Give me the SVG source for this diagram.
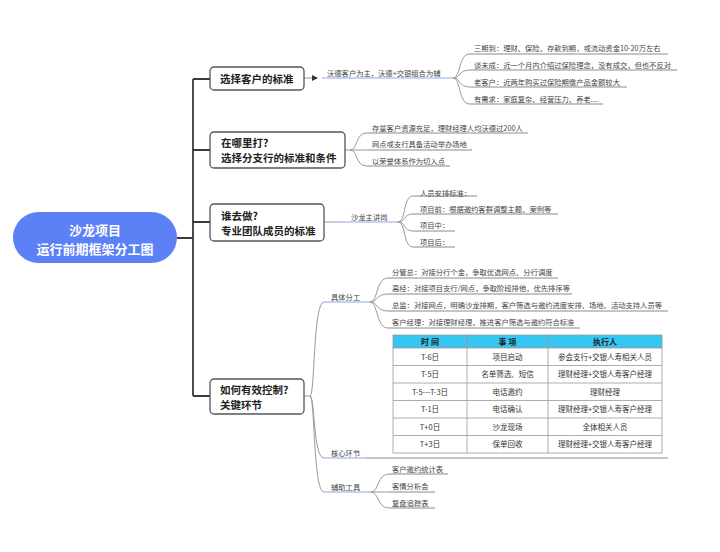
<svg xmlns="http://www.w3.org/2000/svg" width="720" height="552" viewBox="0 0 720 552">
<style>
text{font-family:"Noto Sans CJK SC","Noto Sans",sans-serif}
.root{fill:#5c80f6}
.rt{fill:#fff;font-size:13px;font-weight:bold;text-anchor:middle}
.box{fill:#fff;stroke:#555;stroke-width:1.3}
.nt{fill:#222;font-size:10.5px;font-weight:bold}
.ct{fill:#444;font-size:7.3px}
.trunk{fill:none;stroke:#3a3a3a;stroke-width:1.8}
.br{fill:none;stroke:#999;stroke-width:1}
.ul{fill:none;stroke:#8a8a8a;stroke-width:1}
.bl{fill:none;stroke:#8ea6f4;stroke-width:1.2}
.cell{fill:#fff;stroke:#999;stroke-width:0.8}
.hd{fill:#36c6f2;stroke:#999;stroke-width:0.8}
.tt{fill:#333;font-size:7.5px;text-anchor:middle}
.th{fill:#222;font-size:8px;font-weight:bold;text-anchor:middle}
</style>
<defs>
<marker id="arr" markerWidth="6" markerHeight="6" refX="5" refY="3" orient="auto" markerUnits="userSpaceOnUse">
<path d="M0,0 L6,3 L0,6 Z" fill="#333"/>
</marker>
</defs>
<rect width="720" height="552" fill="#fff"/>

<g id="connectors">
<path class="trunk" d="M177 238 H193 M193 79 V396 M193 79 H210 M193 150 H210 M193 222 H210 M193 396 H210"/>
<path class="br" d="M304 78 H317" marker-end="url(#arr)" stroke="#555"/>
<path class="bl" d="M322 78 H453"/>
<path class="br" d="M453 78 C461 78,458 54,470 54 M453 78 C461 78,458 70,470 70 M453 78 C461 78,458 87,470 87 M453 78 C461 78,458 104,470 104"/>
<path class="ul" d="M470 54 H668 M470 70 H677 M470 87 H627 M470 104 H603"/>
<path class="br" d="M345 150 H350 C358 150,355 133,367 133 M350 150 H367 M350 150 C358 150,355 166,367 166"/>
<path class="ul" d="M367 133 H528 M367 150 H472 M367 166 H450"/>
<path class="br" d="M324 222 H342"/>
<path class="bl" d="M342 222 H395"/>
<path class="br" d="M395 222 H398 C406 222,403 196,413 196 M398 222 C406 222,403 214,413 214 M398 222 C406 222,403 231,413 231 M398 222 C406 222,403 247,413 247"/>
<path class="ul" d="M413 196 H477 M413 214 H558 M413 231 H455 M413 247 H455"/>
<path class="br" d="M304 396 H310 C315 396,313 302,324 302 M310 396 C315 396,313 458,324 458 M310 396 C315 396,313 492,324 492"/>
<path class="bl" d="M324 302 H370 M324 458 H366 M324 492 H368"/>
<path class="ul" d="M366 458 H668"/>
<path class="br" d="M370 302 C378 302,376 278,388 278 M370 302 C378 302,376 294,388 294 M370 302 C378 302,376 311,388 311 M370 302 C378 302,376 328,388 328"/>
<path class="ul" d="M388 278 H558 M388 294 H572 M388 311 H668 M388 328 H580"/>
<path class="br" d="M368 492 H371 C379 492,377 474,389 474 M371 492 H389 M371 492 C379 492,377 508,389 508"/>
<path class="ul" d="M389 474 H448 M389 492 H435 M389 508 H435"/>
</g>

<g id="root">
<rect class="root" x="13" y="212" width="164" height="51" rx="25.5"/>
<text class="rt" x="95" y="235">沙龙项目</text>
<text class="rt" x="95" y="254">运行前期框架分工图</text>
</g>

<g id="node1">
<rect class="box" x="210" y="67" width="94" height="23" rx="4"/>
<text class="nt" x="220" y="83">选择客户的标准</text>
</g>
<g id="node1-label"><text class="ct" x="327" y="75.5">沃德客户为主，沃德+交银组合为辅</text></g>
<g id="node1-children">
<text class="ct" x="474" y="50.8">三期到：理财、保险、存款到期，或流动资金10-20万左右</text>
<text class="ct" x="474" y="67.8">谈未成：近一个月内介绍过保险理念，没有成交，但也不反对</text>
<text class="ct" x="474" y="84.8">老客户：近两年购买过保险期缴产品金额较大</text>
<text class="ct" x="474" y="101.8">有需求：家庭复杂、经营压力、养老....</text>
</g>

<g id="node2">
<rect class="box" x="210" y="132" width="135" height="36" rx="4"/>
<text class="nt" x="221" y="146.5">在哪里打?</text>
<text class="nt" x="221" y="161.5">选择分支行的标准和条件</text>
</g>
<g id="node2-children">
<text class="ct" x="372" y="130.8">存量客户资源充足，理财经理人均沃德过200人</text>
<text class="ct" x="372" y="146.8">网点或支行具备活动举办场地</text>
<text class="ct" x="372" y="163.8">以荣誉体系作为切入点</text>
</g>

<g id="node3">
<rect class="box" x="210" y="204" width="114" height="37" rx="4"/>
<text class="nt" x="221" y="219.5">谁去做?</text>
<text class="nt" x="221" y="235">专业团队成员的标准</text>
</g>
<g id="node3-label"><text class="ct" x="351" y="220">沙龙主讲岗</text></g>
<g id="node3-children">
<text class="ct" x="420" y="195.8">人员安排标准：</text>
<text class="ct" x="420" y="211.8">项目前：根据邀约客群调整主题、案例等</text>
<text class="ct" x="420" y="228">项目中：</text>
<text class="ct" x="420" y="244.8">项目后：</text>
</g>

<g id="node4">
<rect class="box" x="210" y="379" width="94" height="35" rx="4"/>
<text class="nt" x="220" y="394">如何有效控制?</text>
<text class="nt" x="220" y="409">关键环节</text>
</g>
<g id="node4-sub">
<text class="ct" x="331" y="300">具体分工</text>
<text class="ct" x="331" y="455.5">核心环节</text>
<text class="ct" x="331" y="489.5">辅助工具</text>
</g>
<g id="node4-fengong">
<text class="ct" x="392" y="274.8">分管总：对接分行个金，争取优选网点、分行调度</text>
<text class="ct" x="392" y="290.8">高经：对接项目支行/网点，争取阶段排他，优先排序等</text>
<text class="ct" x="392" y="307.8">总监：对接网点，明确沙龙排期，客户筛选与邀约进度安排、场地、活动支持人员等</text>
<text class="ct" x="392" y="324.8">客户经理：对接理财经理，推进客户筛选与邀约符合标准</text>
</g>
<g id="node4-tools">
<text class="ct" x="392" y="471.5">客户邀约统计表</text>
<text class="ct" x="392" y="488.8">客情分析会</text>
<text class="ct" x="392" y="505.5">复盘追踪表</text>
</g>

<g id="table">
<rect class="hd" x="393" y="335" width="74" height="13"/>
<rect class="hd" x="467" y="335" width="81" height="13"/>
<rect class="hd" x="548" y="335" width="114" height="13"/>
<text class="th" x="430" y="344.5">时 间</text>
<text class="th" x="507.5" y="344.5">事 项</text>
<text class="th" x="605" y="344.5">执行人</text>
<rect class="cell" x="393" y="348" width="269" height="105"/>
<path class="cell" d="M393 365.5 H662 M393 383 H662 M393 400.5 H662 M393 418 H662 M393 435.5 H662 M467 348 V453 M548 348 V453"/>
<text class="tt" x="430" y="359.5">T-6日</text>
<text class="tt" x="507.5" y="359.5">项目启动</text>
<text class="tt" x="605" y="359.5">参会支行+交银人寿相关人员</text>
<text class="tt" x="430" y="377">T-5日</text>
<text class="tt" x="507.5" y="377">名单筛选、短信</text>
<text class="tt" x="605" y="377">理财经理+交银人寿客户经理</text>
<text class="tt" x="430" y="394.5">T-5---T-3日</text>
<text class="tt" x="507.5" y="394.5">电话邀约</text>
<text class="tt" x="605" y="394.5">理财经理</text>
<text class="tt" x="430" y="412">T-1日</text>
<text class="tt" x="507.5" y="412">电话确认</text>
<text class="tt" x="605" y="412">理财经理+交银人寿客户经理</text>
<text class="tt" x="430" y="429.5">T+0日</text>
<text class="tt" x="507.5" y="429.5">沙龙现场</text>
<text class="tt" x="605" y="429.5">全体相关人员</text>
<text class="tt" x="430" y="447">T+3日</text>
<text class="tt" x="507.5" y="447">保单回收</text>
<text class="tt" x="605" y="447">理财经理+交银人寿客户经理</text>
</g>
</svg>
